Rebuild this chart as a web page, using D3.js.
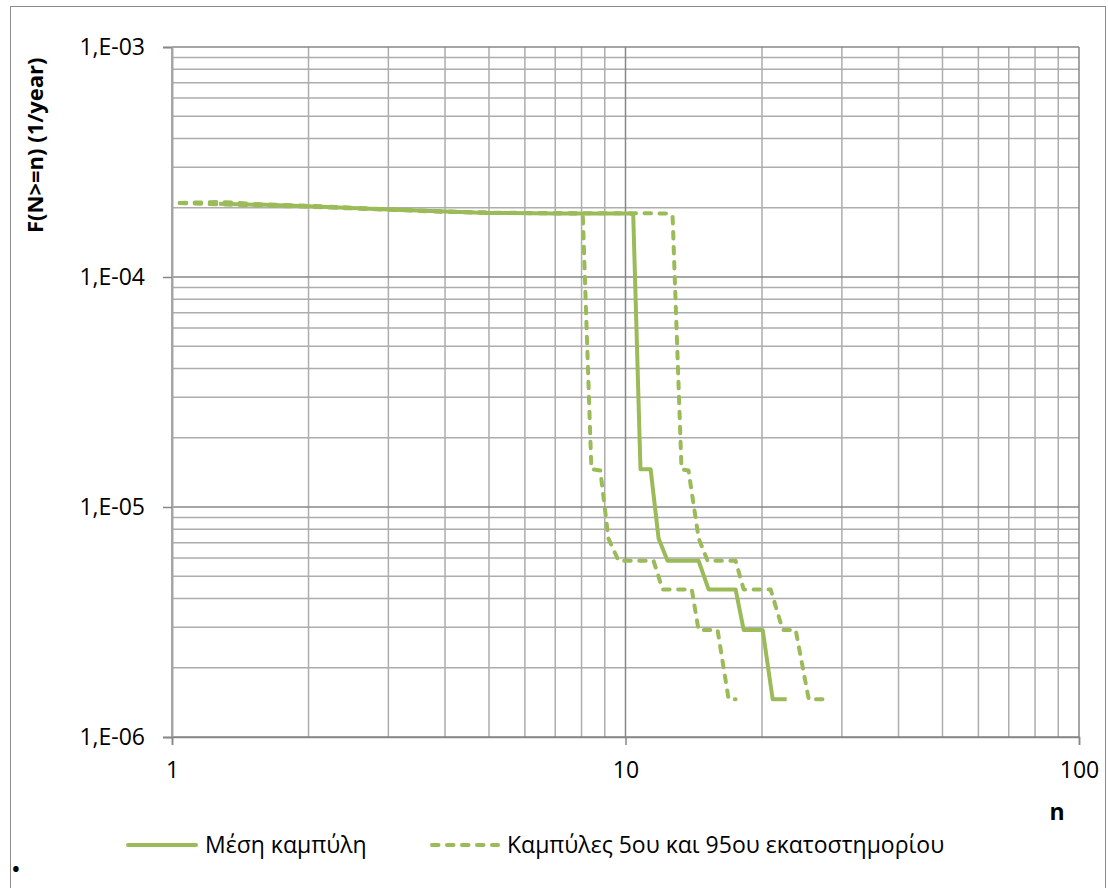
<!DOCTYPE html>
<html lang="el">
<head>
    <meta charset="UTF-8">
    <title>F(N>=n)</title>
    <script src="https://cdn.jsdelivr.net/npm/d3@7/dist/d3.min.js"></script>
    <style>
        body { margin: 0; background: #fff; }
        text { font-family: "Open Sans", "Noto Sans", sans-serif; fill: #000; }
    </style>
</head>
<body>
<script>
    // tick values of both log axes
    var xTicks = [1, 10, 100];
    var yTicks = [1e-6, 1e-5, 1e-4, 1e-3];

    // mean curve [n, F]
    var meanCurve = [
        [1.27, 2.08e-4], [1.6, 2.06e-4], [2, 2.03e-4], [3, 1.965e-4], [4, 1.925e-4],
        [5, 1.90e-4], [7, 1.89e-4], [10.2, 1.89e-4], [10.4, 1.87e-4],
        [10.79, 1.46e-5], [11.36, 1.46e-5], [11.83, 7.3e-6], [12.38, 5.84e-6],
        [14.49, 5.84e-6], [15.25, 4.38e-6], [17.49, 4.38e-6], [18.22, 2.92e-6],
        [20.07, 2.92e-6], [21.11, 1.46e-6], [22.67, 1.46e-6]
    ];
    // 5th percentile curve
    var p5Curve = [
        [1.04, 2.10e-4], [1.25, 2.07e-4], [1.5, 2.05e-4], [2, 2.02e-4], [3, 1.96e-4],
        [4, 1.92e-4], [5, 1.90e-4], [7.85, 1.89e-4], [8.05, 1.85e-4],
        [8.41, 1.46e-5], [8.8, 1.44e-5], [9.17, 7.3e-6], [9.65, 5.84e-6],
        [11.53, 5.84e-6], [12.07, 4.38e-6], [14.0, 4.38e-6], [14.49, 2.92e-6],
        [15.96, 2.92e-6], [16.88, 1.46e-6], [17.49, 1.46e-6]
    ];
    // 95th percentile curve
    var p95Curve = [
        [1.04, 2.10e-4], [1.28, 2.12e-4], [1.5, 2.08e-4], [2, 2.04e-4], [3, 1.97e-4],
        [4, 1.93e-4], [5, 1.905e-4], [7, 1.895e-4], [12.45, 1.89e-4], [12.7, 1.85e-4],
        [13.29, 1.46e-5], [13.77, 1.44e-5], [14.5, 7.3e-6], [15.17, 5.84e-6],
        [17.49, 5.84e-6], [18.22, 4.38e-6], [20.9, 4.38e-6], [22.22, 2.92e-6],
        [23.73, 2.92e-6], [25.35, 1.46e-6], [27.92, 1.46e-6]
    ];
    var legendLabels = ["Μέση καμπύλη", "Καμπύλες 5ου και 95ου εκατοστημορίου"];

    var width = 1108, height = 888;
    var green = "#9bbb59";
    var svg = d3.select("body").append("svg")
            .attr("width", width)
            .attr("height", height);

    // outer chart frame
    svg.append("rect")
            .attr("x", 10.5).attr("y", 6.5)
            .attr("width", 1095).attr("height", 900)
            .style("fill", "none").style("stroke", "#8c8c8c").style("stroke-width", 1);

    var x = d3.scaleLog().domain([1, 100]).range([172, 1079]);
    var y = d3.scaleLog().domain([1e-6, 1e-3]).range([737, 47]);

    // minor / major grid values
    var xMinor = [], yMinor = [];
    [1, 10].forEach(function (d) {
        for (var k = 2; k <= 9; k++) xMinor.push(d * k);
    });
    [1e-6, 1e-5, 1e-4].forEach(function (d) {
        for (var k = 2; k <= 9; k++) yMinor.push(d * k);
    });

    var grid = svg.append("g");
    grid.selectAll("line.xmin").data(xMinor).enter().append("line")
            .attr("x1", function (d) { return x(d); }).attr("x2", function (d) { return x(d); })
            .attr("y1", y(1e-3)).attr("y2", y(1e-6))
            .style("stroke", "#adadad").style("stroke-width", 1.5);
    grid.selectAll("line.ymin").data(yMinor).enter().append("line")
            .attr("x1", x(1)).attr("x2", x(100))
            .attr("y1", function (d) { return y(d); }).attr("y2", function (d) { return y(d); })
            .style("stroke", "#adadad").style("stroke-width", 1.5);
    grid.selectAll("line.xmaj").data(xTicks).enter().append("line")
            .attr("x1", function (d) { return x(d); }).attr("x2", function (d) { return x(d); })
            .attr("y1", y(1e-3)).attr("y2", y(1e-6))
            .style("stroke", "#878787").style("stroke-width", 1.5);
    grid.selectAll("line.ymaj").data(yTicks).enter().append("line")
            .attr("x1", x(1)).attr("x2", x(100))
            .attr("y1", function (d) { return y(d); }).attr("y2", function (d) { return y(d); })
            .style("stroke", "#878787").style("stroke-width", 1.5);

    // axes
    var yAxis = d3.axisLeft(y).tickValues(yTicks).tickSize(9).tickPadding(18)
            .tickFormat(function (d) {
                return "1,E-0" + Math.round(-Math.log10(d));
            });
    var gy = svg.append("g").attr("transform", "translate(" + x(1) + ",0)").call(yAxis);
    gy.select(".domain").style("stroke", "#a6a6a6").style("stroke-width", 2);
    gy.selectAll(".tick line").style("stroke", "#878787").style("stroke-width", 1.5);
    gy.selectAll(".tick text").style("font-size", "23px")
            .style("font-family", "'Open Sans', sans-serif").attr("fill", "#000");

    var xAxis = d3.axisBottom(x).tickValues(xTicks).tickSize(8).tickPadding(17)
            .tickFormat(d3.format("d"));
    var gx = svg.append("g").attr("transform", "translate(0," + y(1e-6) + ")").call(xAxis);
    gx.select(".domain").style("stroke", "#878787").style("stroke-width", 1.5);
    gx.selectAll(".tick line").style("stroke", "#878787").style("stroke-width", 1.5);
    gx.selectAll(".tick text").style("font-size", "23px")
            .style("font-family", "'Open Sans', sans-serif").attr("fill", "#000");

    // curves
    var line = d3.line()
            .x(function (d) { return x(d[0]); })
            .y(function (d) { return y(d[1]); });

    svg.append("path").datum(meanCurve).attr("d", line)
            .style("fill", "none").style("stroke", green).style("stroke-width", 4)
            .style("stroke-linejoin", "round");
    [p5Curve, p95Curve].forEach(function (c) {
        svg.append("path").datum(c).attr("d", line)
                .style("fill", "none").style("stroke", green).style("stroke-width", 4)
                .style("stroke-dasharray", "6.5,8.5").style("stroke-linecap", "round")
                .style("stroke-linejoin", "round");
    });

    // axis titles
    svg.append("text")
            .attr("transform", "translate(43,233) rotate(-90)")
            .style("font-size", "22px").style("font-weight", "bold")
            .text("F(N>=n) (1/year)");
    svg.append("text")
            .attr("x", 1057).attr("y", 820)
            .attr("text-anchor", "middle")
            .style("font-size", "23px").style("font-weight", "bold")
            .text("n");

    // legend
    var legend = svg.append("g");
    legend.append("line")
            .attr("x1", 128).attr("x2", 196).attr("y1", 845).attr("y2", 845)
            .style("stroke", green).style("stroke-width", 4).style("stroke-linecap", "round");
    legend.append("text").attr("x", 205).attr("y", 853)
            .style("font-size", "23px").text(legendLabels[0]);
    legend.append("line")
            .attr("x1", 432).attr("x2", 498).attr("y1", 845).attr("y2", 845)
            .style("stroke", green).style("stroke-width", 4)
            .style("stroke-dasharray", "6.5,8.5").style("stroke-linecap", "round");
    legend.append("text").attr("x", 507).attr("y", 853)
            .style("font-size", "23px").text(legendLabels[1]);

    svg.append("text").attr("x", 11).attr("y", 878)
            .style("font-size", "26px").text("•");
</script>
</body>
</html>
